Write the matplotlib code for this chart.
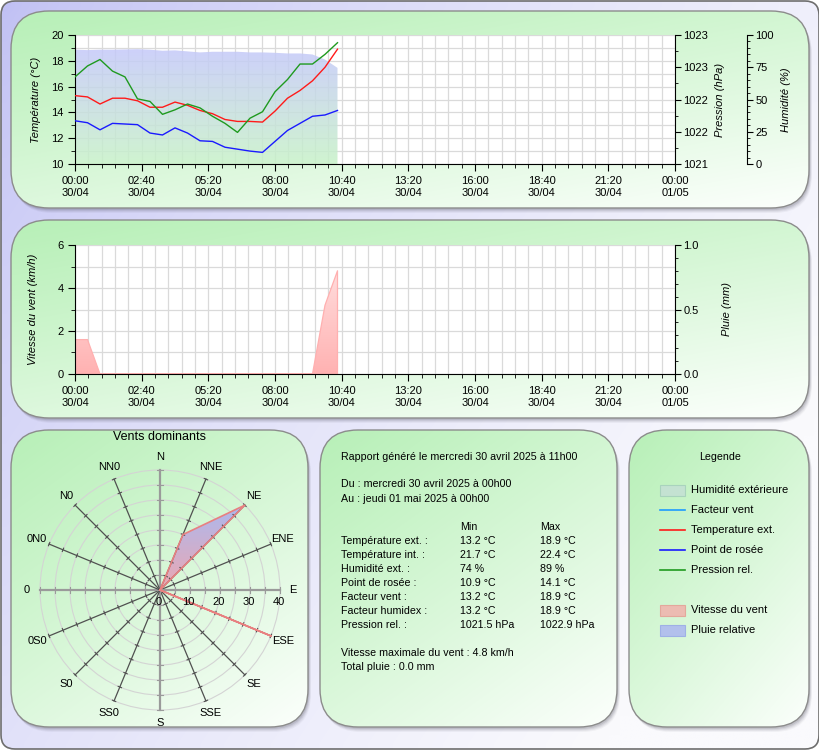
import numpy as np
import matplotlib.pyplot as plt
from matplotlib.patches import FancyBboxPatch, Rectangle, Circle
from matplotlib.ticker import MultipleLocator, FixedLocator, FixedFormatter

plt.rcParams['font.family'] = ['Liberation Sans', 'DejaVu Sans']
plt.rcParams['font.size'] = 8

W, H = 820, 750

# ---- data ----
times = ["00:00", "00:30", "01:00", "01:30", "02:00", "02:30", "03:00", "03:30",
         "04:00", "04:30", "05:00", "05:30", "06:00", "06:30", "07:00", "07:30",
         "08:00", "08:30", "09:00", "09:30", "10:00", "10:30"]
temp_ext = [15.3, 15.2, 14.65, 15.1, 15.1, 14.9, 14.4, 14.4, 14.8, 14.55, 14.15, 13.9,
            13.45, 13.3, 13.3, 13.25, 14.1, 15.1, 15.7, 16.45, 17.5, 18.9]
dew_point = [13.35, 13.2, 12.65, 13.15, 13.1, 13.05, 12.4, 12.25, 12.8, 12.4, 11.8, 11.75,
             11.3, 11.15, 11.0, 10.9, 11.75, 12.6, 13.15, 13.7, 13.8, 14.15]
pressure = [1022.35, 1022.52, 1022.62, 1022.44, 1022.35, 1022.01, 1021.97, 1021.77,
            1021.84, 1021.93, 1021.87, 1021.74, 1021.63, 1021.49, 1021.71, 1021.81,
            1022.12, 1022.31, 1022.55, 1022.55, 1022.70, 1022.88]
humidity = [88.6, 88.3, 88.6, 88.6, 88.8, 89.0, 88.6, 87.8, 88.1, 87.3, 86.5, 87.0,
            87.0, 87.0, 86.5, 86.5, 86.2, 85.7, 85.7, 84.9, 81.0, 74.5]
wind_speed = [1.6, 1.6, 0, 0, 0, 0, 0, 0, 0, 0, 0, 0, 0, 0, 0, 0, 0, 0, 0, 0, 3.2, 4.8]

x_ticks = [0, 160, 320, 480, 640, 800, 960, 1120, 1280, 1440]
x_tick_labels = ["00:00\n30/04", "02:40\n30/04", "05:20\n30/04", "08:00\n30/04",
                 "10:40\n30/04", "13:20\n30/04", "16:00\n30/04", "18:40\n30/04",
                 "21:20\n30/04", "00:00\n01/05"]
pressure_ticks = [1021, 1021.5, 1022, 1022.5, 1023]
pressure_tick_labels = ["1021", "1022", "1022", "1023", "1023"]
rain_ticks = [0, 0.5, 1.0]
rain_tick_labels = ["0.0", "0.5", "1.0"]

rose_dirs = ["N", "NNE", "NE", "ENE", "E", "ESE", "SE", "SSE",
             "S", "SS0", "S0", "0S0", "0", "0N0", "N0", "NN0"]
rose_pct = [0, 20, 40, 0, 0, 40, 0, 0, 0, 0, 0, 0, 0, 0, 0, 0]
rose_rings = [0, 10, 20, 30, 40]

report_head = ["Rapport généré le mercredi 30 avril 2025 à 11h00",
               "Du : mercredi 30 avril 2025 à 00h00",
               "Au : jeudi 01 mai 2025 à 00h00"]
report_names = ["Température ext. :", "Température int. :", "Humidité ext. :",
                "Point de rosée :", "Facteur vent :", "Facteur humidex :", "Pression rel. :"]
report_min = ["13.2 °C", "21.7 °C", "74 %", "10.9 °C", "13.2 °C", "13.2 °C", "1021.5 hPa"]
report_max = ["18.9 °C", "22.4 °C", "89 %", "14.1 °C", "18.9 °C", "18.9 °C", "1022.9 hPa"]
report_foot = ["Vitesse maximale du vent : 4.8 km/h", "Total pluie : 0.0 mm"]

legend_labels = ["Humidité extérieure", "Facteur vent", "Temperature ext.",
                 "Point de rosée", "Pression rel.", "Vitesse du vent", "Pluie relative"]

minutes = [int(t[:2]) * 60 + int(t[3:]) for t in times]

C_TEMP = "#ff1a1a"
C_DEW = "#1a1aff"
C_PRES = "#1f9a1f"
C_WINDCHILL = "#1e9bff"

PLOT_L, PLOT_R = 75, 675
PLOT_W = PLOT_R - PLOT_L


def fig_rect(x0, y0, x1, y1):
    return [x0 / W, 1 - y1 / H, (x1 - x0) / W, (y1 - y0) / H]


def grad_array(c0, c1, wu, wv, n=80, gamma=1.0):
    u = np.linspace(0, 1, n)
    U, V = np.meshgrid(u, u)
    t = np.clip(wu * U + wv * V, 0, 1) ** gamma
    c0 = np.array(c0) / 255.0
    c1 = np.array(c1) / 255.0
    return c0[None, None, :] + (c1 - c0)[None, None, :] * t[:, :, None]


def ax_frac(px):
    # pixel x -> axes fraction of the time charts
    return (px - PLOT_L) / PLOT_W


# ---- background ----
fig = plt.figure(figsize=(W / 100, H / 100), dpi=100)
fig.patch.set_facecolor("white")
bg = fig.add_axes([0, 0, 1, 1])
bg.set_xlim(0, W)
bg.set_ylim(H, 0)
bg.axis("off")

frame = FancyBboxPatch((1, 1), W - 2, H - 2, boxstyle="round,pad=0,rounding_size=14",
                       fc="none", ec="#6e6e6e", lw=1.2, zorder=2)
bg.add_patch(frame)
im = bg.imshow(grad_array((192, 192, 244), (250, 250, 253), 0.75, 0.45, gamma=0.7),
               extent=(1, W - 1, H - 1, 1), origin="upper", aspect="auto", zorder=1,
               interpolation="bilinear")
im.set_clip_path(frame)


def panel(x0, y0, x1, y1, r=38):
    for off, a in [(5, 0.05), (4, 0.07), (3, 0.09), (2, 0.12)]:
        bg.add_patch(FancyBboxPatch((x0 + off * 0.6, y0 + off), x1 - x0, y1 - y0,
                                    boxstyle=f"round,pad=0,rounding_size={r}",
                                    fc="#404050", ec="none", alpha=a, zorder=3))
    p = FancyBboxPatch((x0, y0), x1 - x0, y1 - y0, boxstyle=f"round,pad=0,rounding_size={r}",
                       fc="none", ec="#8c8c8c", lw=1.0, zorder=5)
    bg.add_patch(p)
    gi = bg.imshow(grad_array((184, 240, 184), (252, 255, 252), 0.42, 0.58, gamma=1.1),
                   extent=(x0, x1, y1, y0), origin="upper", aspect="auto", zorder=4,
                   interpolation="bilinear")
    gi.set_clip_path(p)


panel(11, 11, 809, 208)
panel(11, 220, 809, 418)
panel(11, 430, 308, 727)
panel(320, 430, 617, 727)
panel(629, 430, 809, 727)
bg.set_xlim(0, W)
bg.set_ylim(H, 0)


def style_time_axis(ax):
    ax.set_xlim(0, 1440)
    ax.xaxis.set_major_locator(FixedLocator(x_ticks))
    ax.xaxis.set_major_formatter(FixedFormatter(x_tick_labels))
    ax.xaxis.set_minor_locator(MultipleLocator(32))
    ax.tick_params(axis="x", which="major", length=5, pad=4, labelsize=8)
    ax.tick_params(axis="x", which="minor", length=3)
    ax.grid(which="both", color="#dadada", lw=0.9)
    ax.set_axisbelow(True)
    ax.spines["top"].set_visible(False)
    ax.spines["right"].set_visible(False)


# ---- top chart ----
ax1 = fig.add_axes(fig_rect(PLOT_L, 35, PLOT_R, 164))
ax1.set_facecolor("white")
style_time_axis(ax1)
ax1.set_ylim(10, 20)
ax1.yaxis.set_major_locator(MultipleLocator(2))
ax1.yaxis.set_minor_locator(MultipleLocator(1))
ax1.tick_params(axis="y", which="major", length=5, pad=3, labelsize=8)
ax1.tick_params(axis="y", which="minor", length=3)
ax1.set_ylabel("Température (°C)", style="italic", fontsize=8)
ax1.yaxis.set_label_coords(ax_frac(41), 0.5)

ax_h = ax1.twinx()
ax_p = ax1.twinx()
for a in (ax_h, ax_p):
    a.spines["top"].set_visible(False)
    a.spines["left"].set_visible(False)
    a.spines["bottom"].set_visible(False)

ax_h.set_ylim(0, 100)
ax_h.spines["right"].set_position(("axes", ax_frac(747)))
ax_h.yaxis.set_major_locator(MultipleLocator(25))
ax_h.yaxis.set_minor_locator(MultipleLocator(5))
ax_h.tick_params(axis="y", which="major", length=4, pad=2, labelsize=8)
ax_h.tick_params(axis="y", which="minor", length=2)
ax_h.set_ylabel("Humidité (%)", style="italic", fontsize=8)
ax_h.yaxis.set_label_coords(ax_frac(781), 0.5)

ax_p.set_ylim(1021, 1023)
ax_p.yaxis.set_major_locator(FixedLocator(pressure_ticks))
ax_p.yaxis.set_major_formatter(FixedFormatter(pressure_tick_labels))
ax_p.yaxis.set_minor_locator(MultipleLocator(0.25))
ax_p.tick_params(axis="y", which="major", length=4, pad=2, labelsize=8)
ax_p.tick_params(axis="y", which="minor", length=2)
ax_p.set_ylabel("Pression (hPa)", style="italic", fontsize=8)
ax_p.yaxis.set_label_coords(ax_frac(715), 0.5)

# humidity area (drawn in ax1 but scaled by the humidity axis)
hum_fill = ax1.fill_between(minutes, 0, humidity, transform=ax_h.transData,
                            facecolor="none", edgecolor="none", zorder=1)
hi = ax1.imshow(grad_array((196, 200, 250), (200, 242, 200), 0.0, 1.0),
                extent=(minutes[0], minutes[-1], 10, 19), origin="upper", aspect="auto",
                zorder=1, alpha=0.85, interpolation="bilinear")
hi.set_clip_path(hum_fill.get_paths()[0], hum_fill.get_transform())
ax1.plot(minutes, temp_ext, color=C_TEMP, lw=1.0, zorder=3)
ax1.plot(minutes, dew_point, color=C_DEW, lw=1.0, zorder=3)
ax_p.plot(minutes, pressure, color=C_PRES, lw=1.0)
ax1.set_xlim(0, 1440)
ax1.set_ylim(10, 20)

# ---- middle chart ----
ax2 = fig.add_axes(fig_rect(PLOT_L, 245, PLOT_R, 374))
ax2.set_facecolor("white")
style_time_axis(ax2)
ax2.set_ylim(0, 6)
ax2.yaxis.set_major_locator(MultipleLocator(2))
ax2.yaxis.set_minor_locator(MultipleLocator(1))
ax2.tick_params(axis="y", which="major", length=5, pad=3, labelsize=8)
ax2.tick_params(axis="y", which="minor", length=3)
ax2.set_ylabel("Vitesse du vent (km/h)", style="italic", fontsize=8)
ax2.yaxis.set_label_coords(ax_frac(38), 0.5)

ax2r = ax2.twinx()
for s in ("top", "left", "bottom"):
    ax2r.spines[s].set_visible(False)
ax2r.set_ylim(0, 1)
ax2r.yaxis.set_major_locator(FixedLocator(rain_ticks))
ax2r.yaxis.set_major_formatter(FixedFormatter(rain_tick_labels))
ax2r.yaxis.set_minor_locator(MultipleLocator(0.1))
ax2r.tick_params(axis="y", which="major", length=4, pad=2, labelsize=8)
ax2r.tick_params(axis="y", which="minor", length=2)
ax2r.set_ylabel("Pluie (mm)", style="italic", fontsize=8)
ax2r.yaxis.set_label_coords(ax_frac(722), 0.5)

wind_fill = ax2.fill_between(minutes, 0, wind_speed, facecolor="none",
                             edgecolor="#ffb0b0", lw=0.9, zorder=2)
wi = ax2.imshow(grad_array((255, 222, 222), (255, 178, 178), 0.0, 1.0),
                extent=(minutes[0], minutes[-1], 0, 5), origin="upper", aspect="auto",
                zorder=1, interpolation="bilinear")
wi.set_clip_path(wind_fill.get_paths()[0], wind_fill.get_transform())
ax2.set_xlim(0, 1440)
ax2.set_ylim(0, 6)

# ---- wind rose ----
axr = fig.add_axes(fig_rect(10, 440, 310, 740))
axr.set_xlim(-50, 50)
axr.set_ylim(-50, 50)
axr.axis("off")
angles = np.deg2rad(np.arange(len(rose_dirs)) * 360.0 / len(rose_dirs))
rmax = rose_rings[-1]
for r in np.arange(5, rmax + 1, 5):
    axr.add_patch(Circle((0, 0), r, fill=False, ec="#d4d4d4", lw=0.8, zorder=1))

vals = np.array(rose_pct, dtype=float)
px = np.append(vals * np.sin(angles), vals[0] * np.sin(angles[0]))
py = np.append(vals * np.cos(angles), vals[0] * np.cos(angles[0]))
rose_poly = axr.fill(px, py, facecolor="none", edgecolor="none", zorder=2)[0]
ri = axr.imshow(grad_array((172, 184, 238), (236, 168, 178), 0.0, 1.0),
                extent=(-45, 45, 0, py.max()), origin="upper", aspect="auto",
                zorder=2, interpolation="bilinear")
ri.set_clip_path(rose_poly)

for i, (a, name) in enumerate(zip(angles, rose_dirs)):
    sa, ca = np.sin(a), np.cos(a)
    main = i % 4 == 0
    axr.plot([0, rmax * sa], [0, rmax * ca], color="#9a9a9a" if main else "#505050",
             lw=1.6 if main else 0.9, zorder=3)
    tl = 0.9 if main else 0.6
    for r in np.arange(5, rmax + 1, 5):
        axr.plot([r * sa - tl * ca, r * sa + tl * ca], [r * ca + tl * sa, r * ca - tl * sa],
                 color="#9a9a9a" if main else "#505050", lw=0.8, zorder=3)
    axr.text(44.3 * sa, 44.3 * ca, name, ha="center", va="center", fontsize=8, zorder=4)

axr.plot(px, py, color="#e88080", lw=1.2, zorder=4)
for r in rose_rings:
    axr.text(r - 0.5, -2.2, str(r), ha="center", va="top", fontsize=8, zorder=4)
axr.set_xlim(-50, 50)
axr.set_ylim(-50, 50)
bg.text(160, 437, "Vents dominants", ha="center", va="center", fontsize=9, zorder=6)

# ---- report ----
FS_REP = 7.7
for y, s in zip([456.5, 484, 499], report_head):
    bg.text(341, y, s, ha="left", va="center", fontsize=FS_REP, zorder=6)
bg.text(460, 527, "Min", ha="left", va="center", fontsize=FS_REP, zorder=6)
bg.text(540, 527, "Max", ha="left", va="center", fontsize=FS_REP, zorder=6)
for i, (n, mn, mx) in enumerate(zip(report_names, report_min, report_max)):
    y = 541 + i * 14.05
    bg.text(341, y, n, ha="left", va="center", fontsize=FS_REP, zorder=6)
    bg.text(460, y, mn, ha="left", va="center", fontsize=FS_REP, zorder=6)
    bg.text(540, y, mx, ha="left", va="center", fontsize=FS_REP, zorder=6)
for y, s in zip([652.5, 667], report_foot):
    bg.text(341, y, s, ha="left", va="center", fontsize=FS_REP, zorder=6)

# ---- legend panel ----
bg.text(720, 457, "Legende", ha="center", va="center", fontsize=7.7, zorder=6)
legend_y = [490, 510, 530, 550, 570, 610, 630]
legend_kind = [("box", "#c4e2d2", "#a9d3bd"), ("line", C_WINDCHILL, None),
               ("line", C_TEMP, None), ("line", C_DEW, None), ("line", C_PRES, None),
               ("box", "#ecbcb2", "#e3a89c"), ("box", "#b2c0ec", "#9fb0e6")]
for y, lab, (kind, c, ec) in zip(legend_y, legend_labels, legend_kind):
    if kind == "box":
        bg.add_patch(Rectangle((660, y - 5.5), 25, 11, fc=c, ec=ec, lw=0.8, zorder=6))
    else:
        bg.plot([660, 685], [y, y], color=c, lw=1.2, zorder=6)
    bg.text(691, y, lab, ha="left", va="center", fontsize=8, zorder=6)
bg.set_xlim(0, W)
bg.set_ylim(H, 0)

fig.savefig("out.png", dpi=100)
